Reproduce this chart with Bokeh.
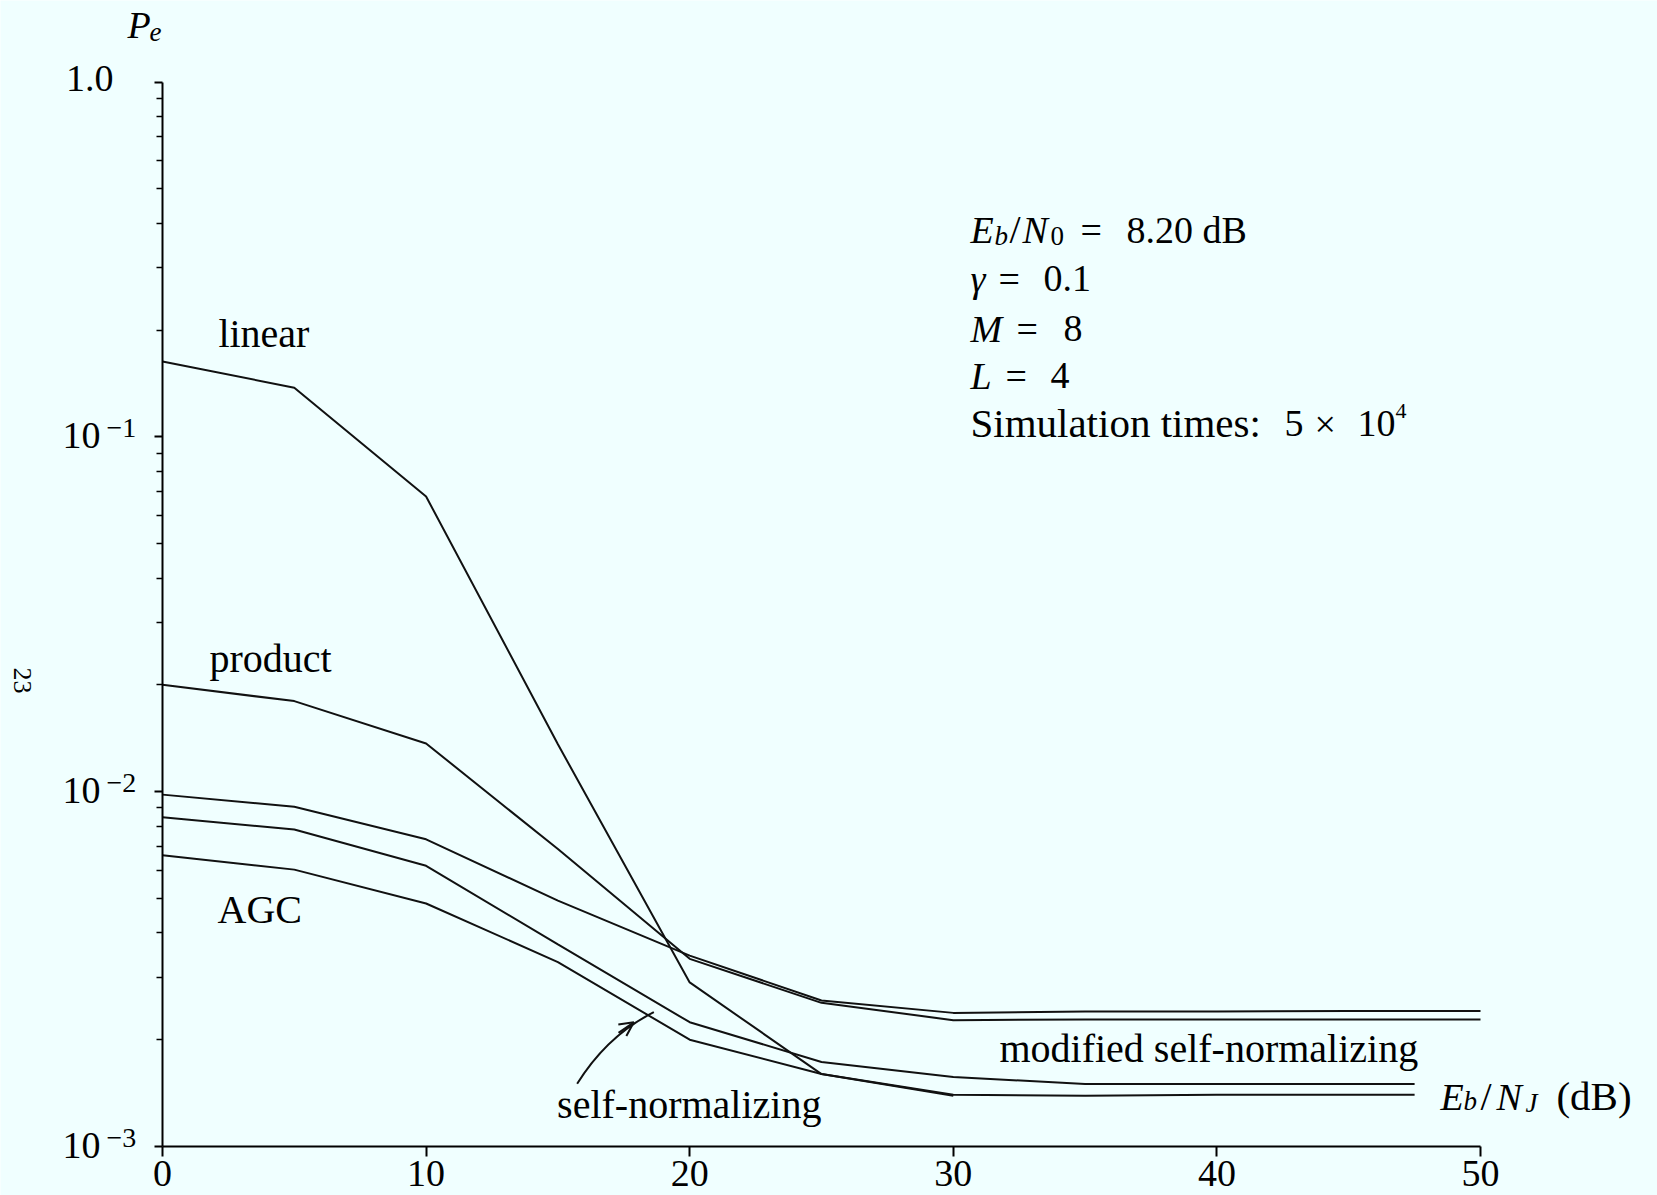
import math
from bokeh.plotting import figure
from bokeh.models import (ColumnDataSource, Label, LabelSet, FixedTicker, Range1d,
                          CustomJSTickFormatter, Arrow, OpenHead)
from bokeh.core.properties import value
from bokeh.embed import file_html
from bokeh.resources import INLINE

# ---------------- data ----------------
x_full = [0, 5, 10, 15, 20, 25, 30, 35, 40, 45, 50]
x_short = [0, 5, 10, 15, 20, 25, 30, 35, 40, 45, 47.5]
x_linear = [0, 5, 10, 15, 20, 25, 30]

pe_linear = [0.163, 0.1376, 0.0679, 0.0136, 0.0029, 0.0016, 0.00139]
pe_product = [0.0200, 0.0180, 0.01367, 0.00689, 0.00338, 0.00254, 0.00227,
              0.00228, 0.00228, 0.00228, 0.00228]
pe_modified = [0.00981, 0.00907, 0.00734, 0.00493, 0.00345, 0.00258, 0.00238,
               0.00240, 0.00240, 0.00241, 0.00241]
pe_selfnorm = [0.00847, 0.00782, 0.00618, 0.00371, 0.00224, 0.00173, 0.00157,
               0.00150, 0.00150, 0.00150, 0.00150]
pe_agc = [0.00662, 0.00603, 0.00484, 0.00331, 0.00200, 0.00160, 0.00140,
          0.00139, 0.00140, 0.00140, 0.00140]

x_ticks = [0, 10, 20, 30, 40, 50]
y_ticks = [0.001, 0.01, 0.1, 1.0]
y_tick_base = ["10", "10", "10", "1.0"]
y_tick_exp = ["−3", "−2", "−1", ""]
y_minor = [m * 10.0 ** k for k in (-3, -2, -1) for m in range(2, 10)]

curve_labels = ["linear", "product", "AGC", "self-normalizing", "modified self-normalizing"]
curve_label_x = [2.12, 1.78, 2.09, 14.97, 31.75]
curve_label_y = [0.1789, 0.02168, 0.004263, 0.0012, 0.001728]

# ---------------- figure ----------------
BG = "#f0ffff"
FONT = "Liberation Serif"
W, H = 1657, 1195
# frame covers the whole canvas; x=0 sits 162 px from the left, 26.36 px per dB;
# 1e-3 sits 1146 px from the top, 354.83 px per decade
PX_X, X0 = 26.36, 162.0
PX_DEC, Y3 = 354.83, 1146.0
x_lo, x_hi = -X0 / PX_X, (W - X0) / PX_X
y_hi = 10 ** (-3 + Y3 / PX_DEC)
y_lo = 10 ** (-3 - (H - Y3) / PX_DEC)

p = figure(width=W, height=H, output_backend="svg", toolbar_location=None,
           y_axis_type="log", x_range=Range1d(x_lo, x_hi), y_range=Range1d(y_lo, y_hi),
           min_border=0, min_border_left=0, min_border_right=0,
           min_border_top=0, min_border_bottom=0)
p.background_fill_color = BG
p.border_fill_color = BG
p.outline_line_color = None
p.grid.visible = False

# x axis (drawn at P = 1e-3, spanning 0..50)
xa = p.xaxis[0]
xa.fixed_location = 0.001
xa.bounds = (0, 50)
xa.ticker = FixedTicker(ticks=x_ticks)
xa.axis_line_width = 2
xa.axis_line_color = "black"
xa.major_tick_line_width = 2
xa.major_tick_line_color = "black"
xa.major_tick_out = 10
xa.major_tick_in = 0
xa.minor_tick_line_color = None
xa.major_label_text_font = FONT
xa.major_label_text_font_size = "38px"
xa.major_label_text_color = "black"
xa.major_label_standoff = 4

# y axis (drawn at x = 0, spanning 1e-3..1)
ya = p.yaxis[0]
ya.fixed_location = 0
ya.bounds = (0.001, 1.0)
ya.ticker = FixedTicker(ticks=y_ticks, minor_ticks=y_minor)
ya.axis_line_width = 2
ya.axis_line_color = "black"
ya.major_tick_line_width = 2
ya.major_tick_line_color = "black"
ya.major_tick_out = 8
ya.major_tick_in = 0
ya.minor_tick_line_width = 1.5
ya.minor_tick_line_color = "black"
ya.minor_tick_out = 6
ya.minor_tick_in = 0
ya.formatter = CustomJSTickFormatter(code="return ''")

# ---------------- curves ----------------
LC = "#111111"
LW = 2
p.line(x_linear, pe_linear, line_color=LC, line_width=LW)
p.line(x_full, pe_product, line_color=LC, line_width=LW)
p.line(x_full, pe_modified, line_color=LC, line_width=LW)
p.line(x_short, pe_selfnorm, line_color=LC, line_width=LW)
p.line(x_short, pe_agc, line_color=LC, line_width=LW)


def corr(size):
    # measured shift of the rendered alphabetic baseline of a single Label
    return 10 + 0.1 * size


# ---------------- y tick labels (with superscripts) ----------------
base_src = ColumnDataSource(dict(y=y_ticks, text=y_tick_base,
                                 x=[0] * len(y_ticks),
                                 dx=[-62 if e else -49 for e in y_tick_exp],
                                 dy=[-11.3 if e else -8.5 for e in y_tick_exp]))
p.add_layout(LabelSet(x="x", y="y", text="text", x_offset="dx", y_offset="dy",
                      source=base_src, text_align="right", text_baseline="alphabetic",
                      text_font=value(FONT), text_font_size=value("38px"),
                      text_color="black"))
exp_idx = [i for i, e in enumerate(y_tick_exp) if e]
exp_src = ColumnDataSource(dict(y=[y_ticks[i] for i in exp_idx],
                                text=[y_tick_exp[i] for i in exp_idx],
                                x=[0] * len(exp_idx)))
p.add_layout(LabelSet(x="x", y="y", text="text", x_offset=-56, y_offset=0,
                      source=exp_src, text_align="left", text_baseline="alphabetic",
                      text_font=value(FONT), text_font_size=value("28px"),
                      text_color="black"))


# ---------------- helpers for composed text ----------------
def piece(x, y, text, dx=0, dy=0, size=38, italic=False):
    p.add_layout(Label(x=x, y=y, x_offset=dx, y_offset=dy + corr(size), text=text,
                       text_font=FONT, text_font_size=f"{size}px",
                       text_font_style="italic" if italic else "normal",
                       text_color="black", text_align="left",
                       text_baseline="alphabetic"))


# curve labels
for t, lx, ly in zip(curve_labels, curve_label_x, curve_label_y):
    piece(lx, ly, t, size=40)

# P_e (y-axis title, above the axis)
piece(0, 1.0, "P", dx=-35, dy=43, size=38, italic=True)
piece(0, 1.0, "e", dx=-13, dy=37, size=27, italic=True)

# E_b/N_J (dB) (x-axis title)
ax_x, ax_y = 48.48, 0.001263
piece(ax_x, ax_y, "E", dx=0, dy=0, size=38, italic=True)
piece(ax_x, ax_y, "b", dx=23, dy=-3, size=27, italic=True)
piece(ax_x, ax_y, "/", dx=40, dy=0, size=40)
piece(ax_x, ax_y, "N", dx=56, dy=0, size=38, italic=True)
piece(ax_x, ax_y, "J", dx=85, dy=-5, size=27, italic=True)
piece(ax_x, ax_y, "(dB)", dx=116, dy=0, size=41)

# parameter block
bx, by = 30.65, 0.3507
piece(bx, by, "E", dx=0, dy=0, size=38, italic=True)
piece(bx, by, "b", dx=24, dy=-5, size=27, italic=True)
piece(bx, by, "/", dx=39, dy=0, size=40)
piece(bx, by, "N", dx=52, dy=0, size=38, italic=True)
piece(bx, by, "0", dx=80, dy=-5, size=27)
piece(bx, by, "=", dx=110, dy=0, size=38)
piece(bx, by, "8.20 dB", dx=156, dy=0, size=38)

piece(bx, by, "γ", dx=0, dy=-49, size=38, italic=True)
piece(bx, by, "=", dx=28, dy=-49, size=38)
piece(bx, by, "0.1", dx=73, dy=-49, size=38)

piece(bx, by, "M", dx=0, dy=-99, size=38, italic=True)
piece(bx, by, "=", dx=46, dy=-99, size=38)
piece(bx, by, "8", dx=93, dy=-99, size=38)

piece(bx, by, "L", dx=0, dy=-146, size=38, italic=True)
piece(bx, by, "=", dx=35, dy=-146, size=38)
piece(bx, by, "4", dx=80, dy=-146, size=38)

piece(bx, by, "Simulation times:", dx=0, dy=-194, size=41)
piece(bx, by, "5", dx=314, dy=-194, size=38)
piece(bx, by, "×", dx=344, dy=-194, size=38)
piece(bx, by, "10", dx=387, dy=-194, size=38)
piece(bx, by, "4", dx=425, dy=-180, size=22)

# page number of the scanned page (rotated)
p.add_layout(Label(x=0, y=0.02057, x_offset=-140, text="23", text_font=FONT,
                   text_font_size="26px", text_color="black", text_align="center",
                   text_baseline="middle", angle=-math.pi / 2))

# ---------------- arrow pointing at the self-normalizing curve ----------------
p.quadratic(x0=[15.73], y0=[0.001502], x1=[18.64], y1=[0.002391],
            cx=[16.88], cy=[0.002058], line_color=LC, line_width=2)
p.add_layout(Arrow(end=OpenHead(size=14, line_width=2, line_color=LC),
                   x_start=17.30, y_start=0.002090, x_end=17.88, y_end=0.002240,
                   line_color=LC, line_width=2))

open("out.html", "w").write(file_html(p, INLINE))
